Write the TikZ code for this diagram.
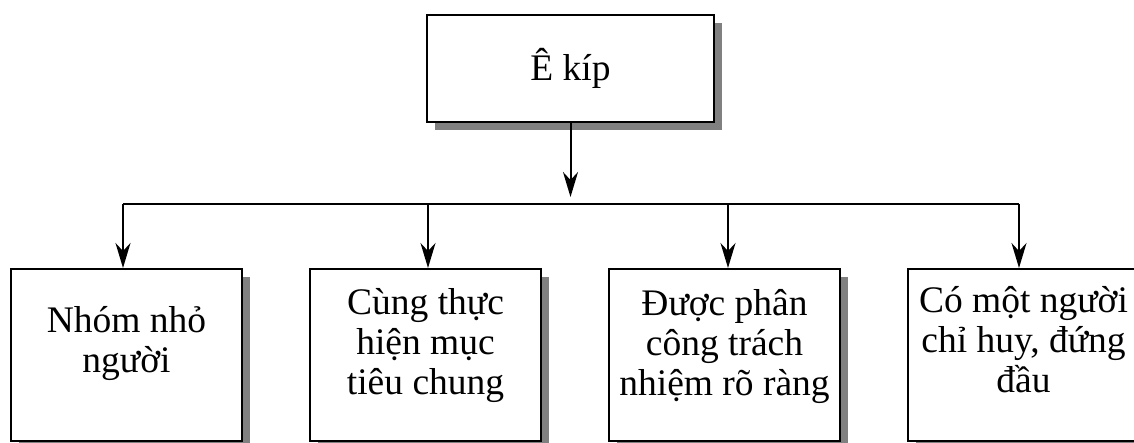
\documentclass[tikz,border=0pt]{standalone}
\usepackage{fontspec}
\setmainfont{Liberation Serif}
\usetikzlibrary{arrows.meta,shadows}
\begin{document}
\begin{tikzpicture}[x=1pt,y=-1pt,
  txt/.style={font=\fontsize{37.5}{40}\selectfont, align=center, inner sep=0pt},
  shadowbox/.style={draw=black, line width=2pt, fill=white, inner sep=0pt,
    drop shadow={shadow xshift=8pt, shadow yshift=-8pt, fill=black!50, opacity=1}},
  leaf/.style={shadowbox, minimum width=231pt, minimum height=172pt},
  wire/.style={line width=2pt, draw=black},
  arr/.style={wire, -{Stealth[length=25pt,width=15pt,inset=8pt]}}
]
\path[use as bounding box, clip] (0,0) rectangle (1134,443);

% root box
\node[shadowbox, minimum width=287pt, minimum height=107pt, txt] (top) at (570.5,68.5) {Ê kíp};

% four child boxes
\node[leaf] (b1) at (126.5,355) {};
\node[leaf] (b2) at (425.5,355) {};
\node[leaf] (b3) at (724.5,355) {};
\node[leaf] (b4) at (1023.5,355) {};

\node[txt] (t1) at (126.5,344) {Nhóm nhỏ\\người};
\node[txt] (t2) at (425.5,346) {Cùng thực\\hiện mục\\tiêu chung};
\node[txt] (t3) at (724.5,346) {Được phân\\công trách\\nhiệm rõ ràng};
\node[txt] (t4) at (1023.5,340) {Có một người\\chỉ huy, đứng\\đầu};

% distribution bus
\coordinate (j1) at (123,204);
\coordinate (j2) at (428,204);
\coordinate (j3) at (728,204);
\coordinate (j4) at (1019,204);

\draw[wire] (j1) -- (j4);
\draw[arr, shorten >=7pt] (top.south) -- (top.south |- j1);
\draw[arr] (j1) -- (j1 |- b1.north);
\draw[arr] (j2) -- (j2 |- b2.north);
\draw[arr] (j3) -- (j3 |- b3.north);
\draw[arr] (j4) -- (j4 |- b4.north);
\end{tikzpicture}
\end{document}
